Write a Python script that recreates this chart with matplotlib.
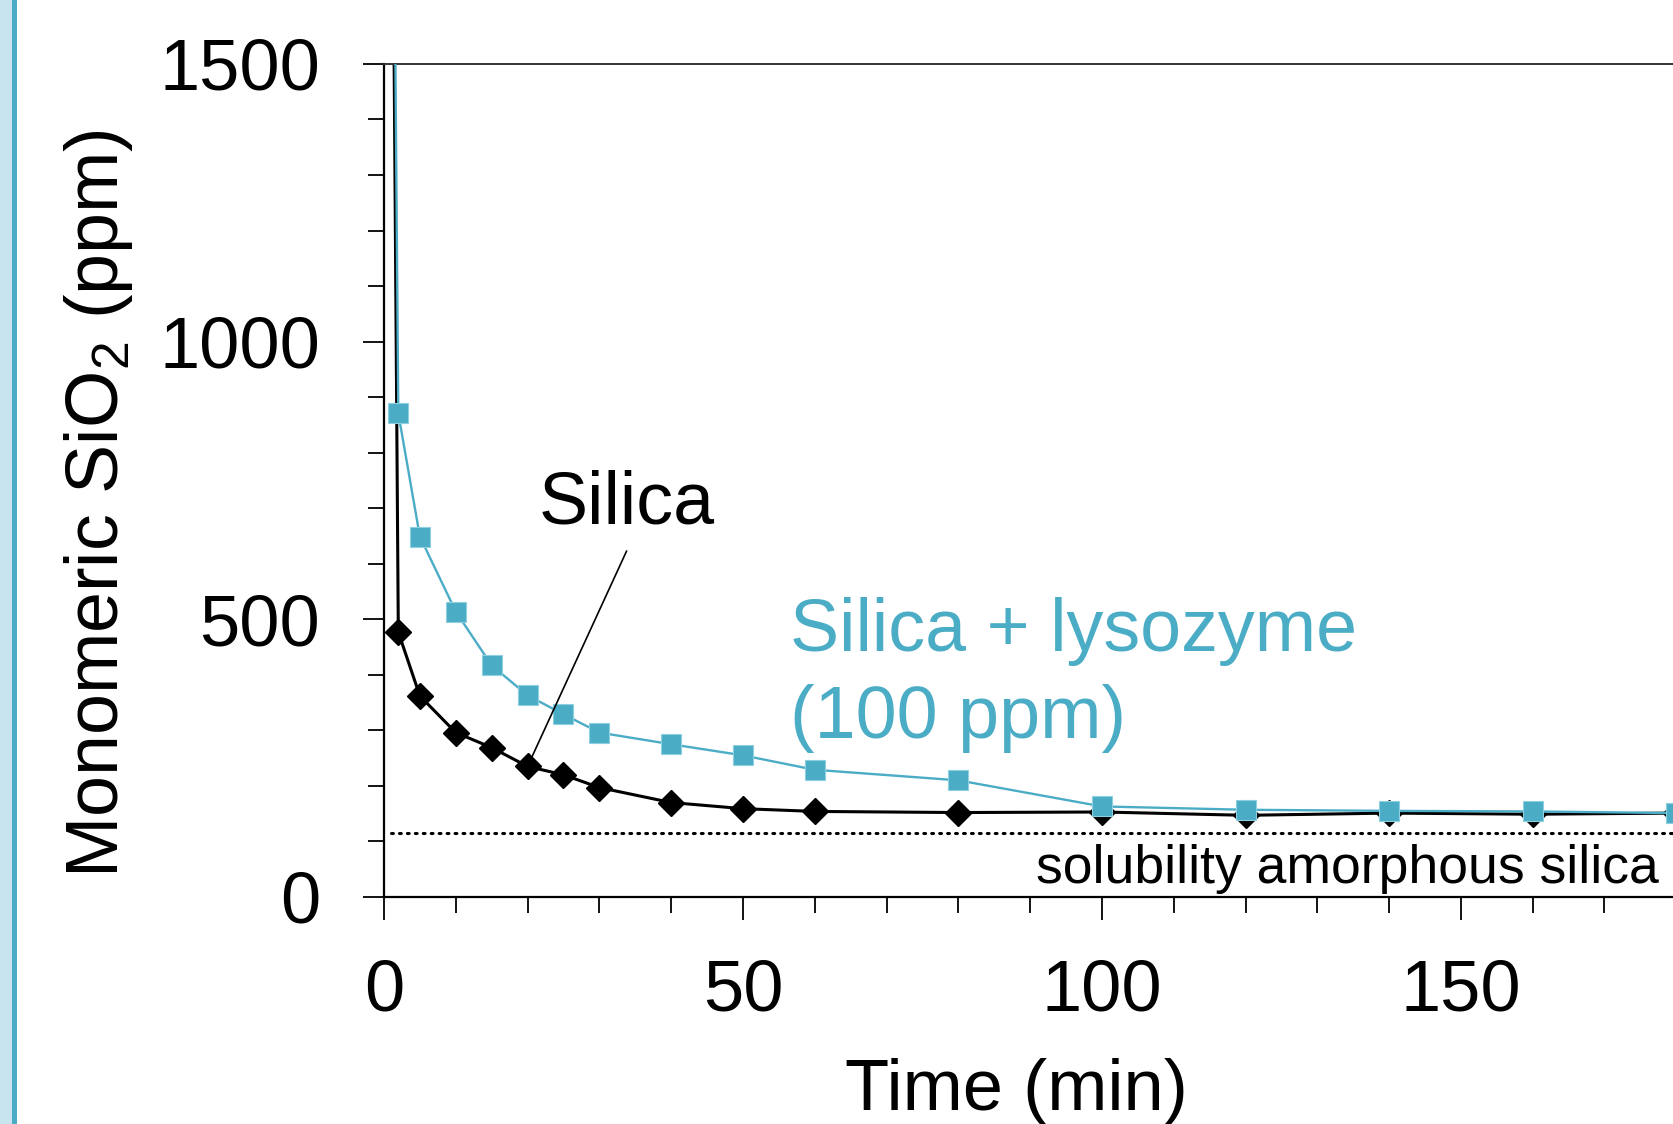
import matplotlib
matplotlib.use("Agg")
import matplotlib.pyplot as plt
from matplotlib.patches import Rectangle
from matplotlib.ticker import MultipleLocator

plt.rcParams['font.family'] = ['Liberation Sans', 'DejaVu Sans']
plt.rcParams['mathtext.fontset'] = 'custom'
plt.rcParams['mathtext.rm'] = 'Liberation Sans'
plt.rcParams['mathtext.default'] = 'regular'

# time points (min); first point (t=0) is off the top of the axis
time = [0, 2, 5, 10, 15, 20, 25, 30, 40, 50, 60, 80, 100, 120, 140, 160, 180]
silica = [4000, 477, 362, 296, 269, 235, 220, 197, 170, 159, 154, 152,
          153, 147, 151, 149, 151]
silica_lyso = [4000, 871, 649, 514, 417, 363, 329, 296, 275, 255, 229, 210,
               163, 157, 155, 154, 151]
solubility = 115

teal = '#4BACC6'

fig = plt.figure(figsize=(16.73, 11.24), dpi=100)
ax = fig.add_axes([0.2295, 0.2020, 0.8583, 0.7411])

# left side decoration bar
fig.patches.append(Rectangle((0, 0), 12 / 1673, 1, transform=fig.transFigure,
                             facecolor='#C8E4EF', edgecolor='none'))
fig.patches.append(Rectangle((12 / 1673, 0), 5 / 1673, 1, transform=fig.transFigure,
                             facecolor=teal, edgecolor='none'))

ax.axhline(solubility, xmin=0.005, color='black', lw=2.2,
           linestyle=(0, (0.6, 2.0)), dash_capstyle='round', zorder=1)
ax.plot(time, silica, color='black', lw=2.2, marker='D', ms=13.5,
        mfc='black', mec='black', zorder=2)
ax.plot(time, silica_lyso, color=teal, lw=1.7, marker='s', ms=14.5,
        mfc=teal, mec='#8fd0e0', mew=0.8, zorder=3)

ax.set_xlim(0, 200)
ax.set_ylim(0, 1500)
ax.set_xticks([0, 50, 100, 150])
ax.set_yticks([0, 500, 1000, 1500])
ax.xaxis.set_minor_locator(MultipleLocator(10))
ax.yaxis.set_minor_locator(MultipleLocator(100))

ax.tick_params(axis='both', which='major', direction='out', width=1.3,
               labelsize=52, colors='black')
ax.tick_params(axis='y', which='major', length=15, pad=31)
ax.tick_params(axis='x', which='major', length=16.5, pad=28)
ax.tick_params(axis='both', which='minor', direction='out', width=1.3, length=11.5)

for side in ['left', 'bottom']:
    ax.spines[side].set_linewidth(1.6)
ax.spines['top'].set_linewidth(1.4)
ax.spines['top'].set_color('#333333')
ax.spines['right'].set_visible(False)

fig.text(118 / 1673, 1 - 504 / 1124, r'Monomeric SiO$_2$ (ppm)', fontsize=53,
         rotation=90, rotation_mode='anchor', ha='center', va='baseline')
fig.text(1016 / 1673, 1 - 1110 / 1124, 'Time (min)', fontsize=52,
         ha='center', va='baseline')

# "Silica" label with its pointer line to the 20 min point
ax.annotate('', xy=(time[5], silica[5]), xytext=(33.8, 623),
            arrowprops=dict(arrowstyle='-', color='black', lw=1.2,
                            shrinkA=0, shrinkB=3))
ax.text(33.8, 673, 'Silica', fontsize=53, ha='center', va='baseline')
ax.text(56.5, 443, 'Silica + lysozyme', color=teal, fontsize=53,
        ha='left', va='baseline')
ax.text(56.5, 286, '(100 ppm)', color=teal, fontsize=53,
        ha='left', va='baseline')
ax.text(177.5, 25, 'solubility amorphous silica', fontsize=38.5,
        ha='right', va='baseline')

fig.savefig('out.png', dpi=100)
